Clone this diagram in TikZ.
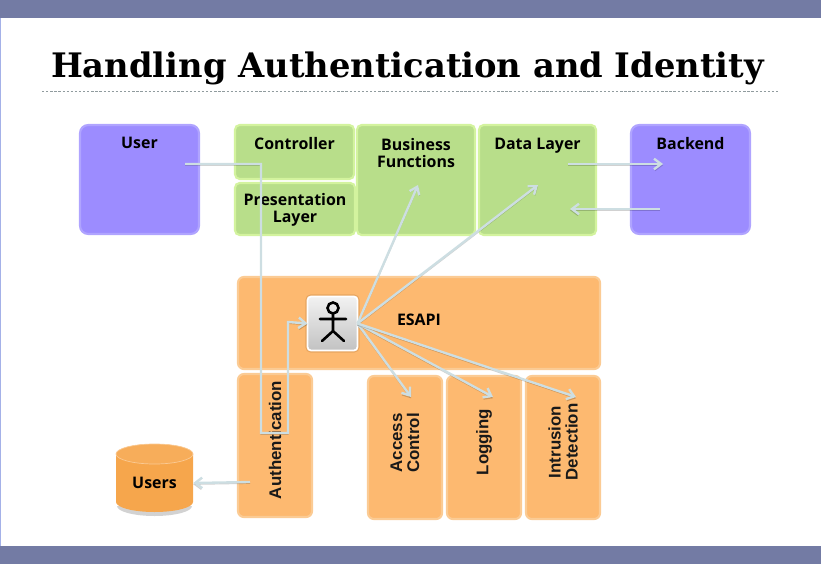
\documentclass[tikz,border=0pt]{standalone}
\usepackage{fontspec}
\setmainfont{Open Sans}
\newfontfamily\titlefont{DejaVu Serif}
\newfontfamily\sidefont{Liberation Sans}
\usetikzlibrary{positioning,arrows.meta}
\definecolor{barblue}{RGB}{115,123,164}
\definecolor{linkgrey}{RGB}{205,222,226}
\definecolor{storefill}{RGB}{246,166,76}
\tikzset{
  size/.style 2 args={minimum width=#1*0.03cm, minimum height=#2*0.03cm},
  main/.style={rectangle, rounded corners=7pt, inner sep=0pt, outer sep=0pt, line width=1.8pt},
  userbox/.style={main, fill={rgb,255:red,156;green,140;blue,255}, draw={rgb,255:red,176;green,164;blue,255}},
  layerbox/.style={main, rounded corners=4pt, fill={rgb,255:red,184;green,222;blue,138}, draw={rgb,255:red,211;green,243;blue,158}},
  apibox/.style={main, rounded corners=5pt, fill={rgb,255:red,253;green,185;blue,112}, draw={rgb,255:red,251;green,203;blue,148}},
  boxtext/.style={font=\bfseries\fontsize{13.6}{14.5}\selectfont, align=center, inner sep=0pt, text=black},
  sidetext/.style={font=\sidefont\bfseries\fontsize{14.4}{14.5}\selectfont, align=center, inner sep=0pt, rotate=90, text=black!90},
  connect/.style={-{Straight Barb[length=6pt,width=9pt]}, line width=2pt, draw=linkgrey,
    preaction={draw=black, draw opacity=0.18, line width=1pt, transform canvas={yshift=-1.1pt}}}
}
\begin{document}
\begin{tikzpicture}[x=0.03cm,y=-0.03cm]
  \useasboundingbox (0,0) rectangle (821,564);
  \fill[barblue] (0,0) rectangle (821,18);
  \fill[barblue] (0,546) rectangle (821,564);
  \draw[linkgrey!80!blue, line width=0.8pt] (0.5,18) -- (0.5,546);
  \node (title) at (407.5,68) {\titlefont\bfseries\fontsize{28.8}{28.8}\selectfont Handling Authentication and Identity};
  \draw[dash pattern=on 2pt off 1.5pt, black!30!linkgrey, line width=0.5pt] (42,91.5) -- (780,91.5);

  % top row
  \node[userbox, size={119}{109}] (user) at (139.5,179.5) {};
  \node[layerbox, size={119}{54}] (controller) at (294.5,152) {};
  \node[layerbox, size={120}{52}] (presentation) at (295,209) {};
  \node[layerbox, size={118}{110}] (business) at (416,180) {};
  \node[layerbox, size={117}{110}] (data) at (537.5,180) {};
  \node[userbox, size={119}{109}] (backend) at (690.5,179.5) {};
  \node[boxtext, below=0.36cm of user.north] (user text) {User};
  \node[boxtext, below=0.36cm of controller.north] (controller text) {Controller};
  \node[boxtext, below=0.3cm of presentation.north] (presentation text) {Presentation\\Layer};
  \node[boxtext, below=0.39cm of business.north] (business text) {Business\\Functions};
  \node[boxtext, below=0.4cm of data.north] (data text) {Data Layer};
  \node[boxtext, below=0.36cm of backend.north] (backend text) {Backend};

  % esapi and its parts
  \node[apibox, size={362}{92}] (esapi) at (419,323) {};
  \node[apibox, size={74}{143}] (authentication) at (275,445.5) {};
  \node[apibox, size={74}{143}] (access) at (405,447.5) {};
  \node[apibox, size={74}{143}] (logging) at (484,447.5) {};
  \node[apibox, size={74}{143}] (intrusion) at (563,447.5) {};
  \node[boxtext] (esapi text) at (419,320) {ESAPI};
  \node[sidetext] (authentication text) at (275,440) {Authentication};
  \node[sidetext] (access text) at (405,443) {Access\\Control};
  \node[sidetext] (logging text) at (484,442) {Logging};
  \node[sidetext] (intrusion text) at (563,442) {Intrusion\\Detection};

  % users store
  \fill[black!35, opacity=0.5] (117,506) arc[start angle=180, end angle=0, x radius=37.5, y radius=10] -- cycle;
  \fill[storefill] (116,454) arc[start angle=180, end angle=360, x radius=38.5, y radius=10] -- (193,502) arc[start angle=0, end angle=180, x radius=38.5, y radius=10] -- cycle;
  \draw[fill=storefill!92!white, draw=storefill!60!white, line width=0.6pt] (154.5,454) ellipse (38.5 and 10);
  \node[boxtext, size={77}{71}] (users) at (154.5,483) {Users};

  % actor icon
  \node[rectangle, rounded corners=3pt, size={50}{54}, top color=black!5, bottom color=black!24, draw=white, line width=1.5pt, outer sep=0pt,
    preaction={draw=brown, draw opacity=0.35, line width=3.5pt}] (actor) at (332.5,323.5) {};
  \draw[black, line width=2.2pt, line cap=round] (333,308) circle (5.5);
  \draw[black, line width=2.2pt, line cap=round] (333,313.5) -- (333,331) (320,319) -- (346,319) (322,341) -- (333,331) -- (344,341);

  % free ends
  \coordinate (user out) at (185,164);
  \coordinate (turn a) at (261,164);
  \coordinate (turn b) at (261,433);
  \coordinate (turn c) at (288,433);
  \coordinate (turn d) at (288,322);
  \coordinate (business in) at (418,185);
  \coordinate (data in) at (538,185);
  \coordinate (access in) at (411,397);
  \coordinate (logging in) at (493,397);
  \coordinate (intrusion in) at (576,397);
  \coordinate (data out) at (568,164);
  \coordinate (backend in) at (663,164);
  \coordinate (backend out) at (660,209);
  \coordinate (data back) at (570,209);
  \coordinate (auth out) at (250,482);

  \draw[connect] (user out) -- (turn a) -- (turn b) -- (turn c) -- (turn d) -- (actor.west);
  \foreach \t in {business in, data in, access in, logging in, intrusion in} {
    \draw[connect] (actor.east) -- (\t);
  }
  \draw[connect] (data out) -- (backend in);
  \draw[connect] (backend out) -- (data back);
  \draw[connect] (auth out) -- (users.east);
\end{tikzpicture}
\end{document}
